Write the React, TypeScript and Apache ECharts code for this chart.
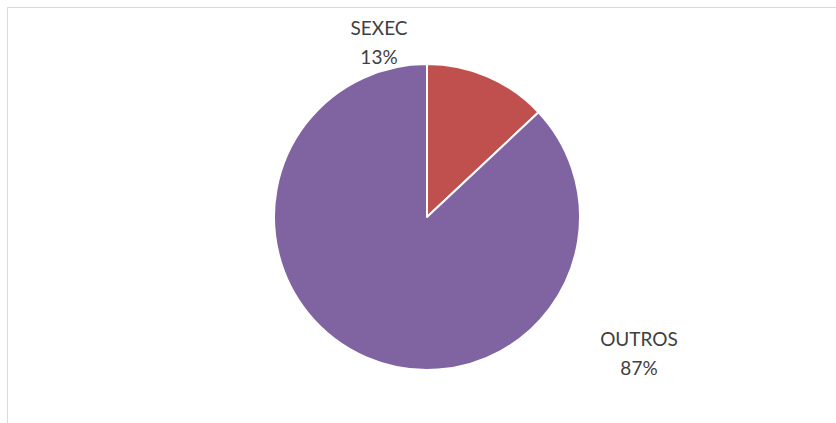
import React, { useEffect, useRef } from "react";
import * as echarts from "echarts";

const categories = ["SEXEC", "OUTROS"];
const values = [13, 87];
const colors = ["#C0504D", "#8064A2"];

export default function App() {
  const ref = useRef<HTMLDivElement>(null);
  useEffect(() => {
    if (!ref.current) return;
    const chart = echarts.init(ref.current, undefined, { renderer: "svg" });
    const labelPos = [
      { x: 379, y: 42 },
      { x: 639, y: 353 },
    ];
    chart.setOption({
      animation: false,
      backgroundColor: "#ffffff",
      graphic: [
        { type: "line", shape: { x1: 7.5, y1: 7.5, x2: 836, y2: 7.5 }, style: { stroke: "#d9d9d9", lineWidth: 1 } },
        { type: "line", shape: { x1: 7.5, y1: 7.5, x2: 7.5, y2: 423 }, style: { stroke: "#d9d9d9", lineWidth: 1 } },
      ],
      series: [
        {
          type: "pie",
          center: [427, 217],
          radius: [0, 153],
          startAngle: 90,
          clockwise: true,
          data: categories.map((c, i) => ({
            name: c,
            value: values[i],
            itemStyle: { color: colors[i] },
          })),
          itemStyle: { borderColor: "#ffffff", borderWidth: 2 },
          label: {
            show: true,
            position: "outside",
            formatter: (p: any) => `${p.name}\n${Math.round(p.percent)}%`,
            color: "#404040",
            fontSize: 19,
            lineHeight: 29,
            fontFamily: "Lato",
            align: "center",
          },
          labelLine: { show: false },
          labelLayout: (params: any) => ({
            x: labelPos[params.dataIndex].x,
            y: labelPos[params.dataIndex].y,
            align: "center",
            verticalAlign: "middle",
          }),
          emphasis: { disabled: true },
        },
      ],
    });
    return () => chart.dispose();
  }, []);
  return (
    <div
      ref={ref}
      style={{ position: "fixed", left: 0, top: 0, width: 836, height: 423 }}
    />
  );
}
